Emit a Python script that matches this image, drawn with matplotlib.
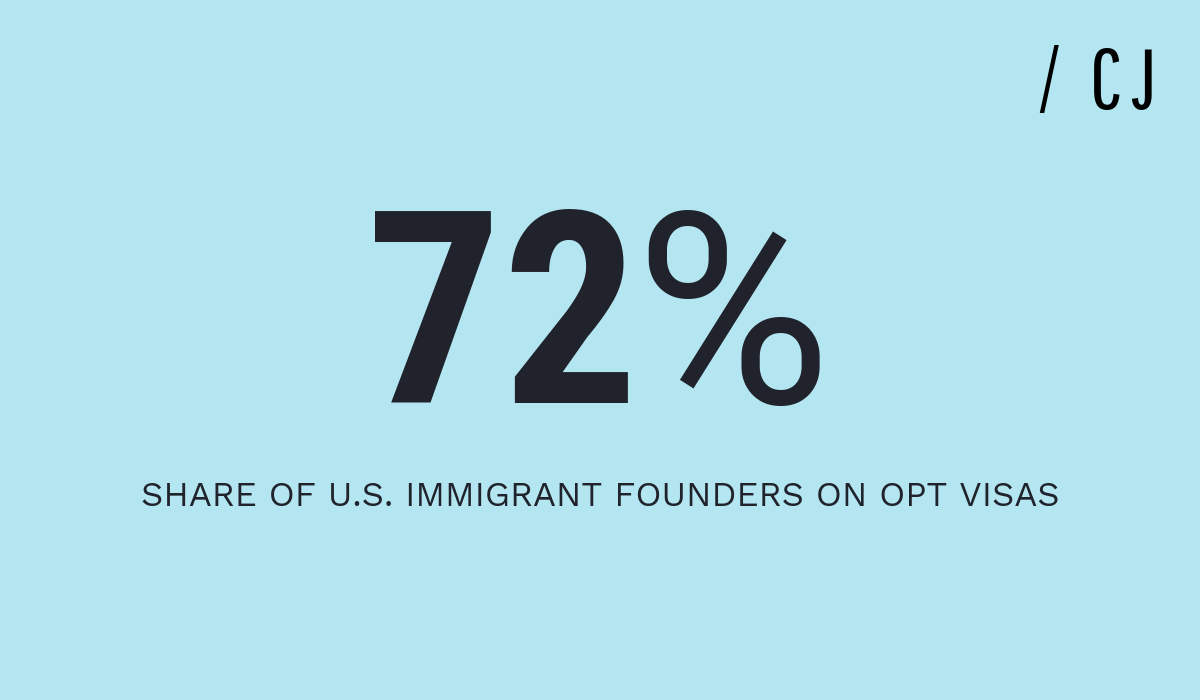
import matplotlib
matplotlib.use("Agg")
import matplotlib.pyplot as plt

# content
big_value = "72"
big_suffix = "%"
caption = "SHARE OF U.S. IMMIGRANT FOUNDERS ON OPT VISAS"
logo_chars = ["/", "C", "J"]

BG = "#b3e6f1"
INK = "#20222c"

fig = plt.figure(figsize=(12, 7), dpi=100, facecolor=BG)
ax = fig.add_axes([0, 0, 1, 1])
ax.set_xlim(0, 1200)
ax.set_ylim(700, 0)
ax.set_facecolor(BG)
ax.axis("off")

# big number: heavy condensed digits, lighter percent sign
ax.text(366, 403, big_value, ha="left", va="baseline",
        fontsize=194, fontweight="bold", color=INK,
        family=["Roboto Condensed", "DejaVu Sans"])
ax.text(634, 403, big_suffix, ha="left", va="baseline",
        fontsize=193, fontweight="normal", color=INK,
        family=["Roboto", "DejaVu Sans"])

# caption
ax.text(600, 506, caption, ha="center", va="baseline",
        fontsize=25, color=INK, family=["Work Sans", "Inter", "DejaVu Sans"])

# logo
for ch, x in zip(logo_chars, [1049, 1106, 1143]):
    ax.text(x, 109, ch, ha="center", va="baseline", fontsize=61,
            color="black", family=["Pathway Gothic One", "DejaVu Sans"])

fig.savefig("out.png", dpi=100, facecolor=BG)
